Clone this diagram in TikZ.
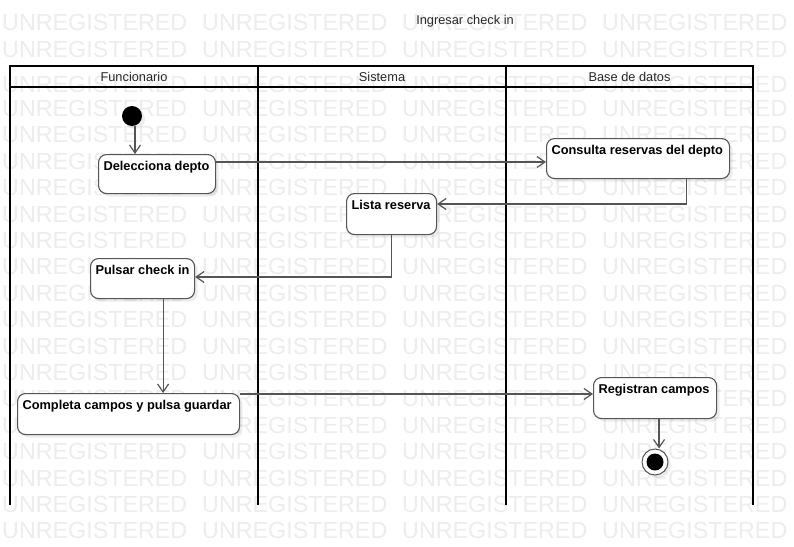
\documentclass[tikz,border=0pt]{standalone}
\usepackage{fontspec}
\setmainfont{Liberation Sans}
\usetikzlibrary{arrows.meta,shadows,calc}
\definecolor{wmgray}{RGB}{237,237,237}
\definecolor{edge}{RGB}{85,85,85}
\definecolor{ink}{RGB}{40,40,40}
\newcommand{\acttext}[2]{\makebox[#1][l]{#2}}
\begin{document}
\begin{tikzpicture}[x=1pt,y=-1pt,
  wm/.style={anchor=base west, inner sep=0pt, text=wmgray, font=\fontsize{23.3}{24}\selectfont},
  lane/.style={line width=2pt, draw=black},
  lanehead/.style={font=\fontsize{12.8}{14}\selectfont, text=ink, inner sep=0pt},
  softshadow/.style={drop shadow={shadow xshift=3pt, shadow yshift=-3pt, fill=black, opacity=0.07}},
  actbox/.style={draw=edge, line width=1.1pt, rounded corners=8pt, fill=white,
    anchor=north west, inner xsep=5pt, inner ysep=5pt, text height=11pt,
    font=\bfseries\fontsize{12.8}{14}\selectfont, softshadow},
  flow/.style={draw=edge, line width=1.2pt, -{Straight Barb[length=8pt,width=11pt]}},
]
\useasboundingbox (0,0) rectangle (794,546);
\fill[white] (0,0) rectangle (794,546);

% background watermark rows
\foreach \yy [count=\r] in {30.7,57.4,92.7}
  \foreach \c in {0,...,3}
    \node[wm] (wmA-\r-\c) at (2+200*\c,\yy) {UNREGISTERED};
\foreach \k in {0,...,16}
  \foreach \c in {0,...,3}
    \node[wm] (wmB-\k-\c) at (2+200*\c,116.5+26.4*\k) {UNREGISTERED};

% title
\node[lanehead] (title) at (465,21) {Ingresar check in};

% swimlanes
\draw[lane] (10,66) rectangle (753,87);
\draw[lane] (10,66) -- (10,505);
\draw[lane] (258,66) -- (258,505);
\draw[lane] (506,66) -- (506,505);
\draw[lane] (753,66) -- (753,505);
\node[lanehead] (hf) at (134,76.5) {Funcionario};
\node[lanehead] (hs) at (382,76.5) {Sistema};
\node[lanehead] (hb) at (629.5,76.5) {Base de datos};

% initial and final states
\node[circle, fill=black, minimum size=20pt, inner sep=0pt, softshadow] (init) at (132,116) {};
\node[circle, draw=edge, line width=1pt, fill=white, minimum size=26pt, inner sep=0pt, softshadow] (fin) at (655,462) {};
\node[circle, fill=black, minimum size=17pt, inner sep=0pt] (fincore) at (fin) {};

% activities
\node[actbox, text depth=18pt] (d1) at (98,154) {\acttext{107pt}{Delecciona depto}};
\node[actbox, text depth=19pt] (c2) at (546,138) {\acttext{173pt}{Consulta reservas del depto}};
\node[actbox, text depth=20pt] (l3) at (346,193) {\acttext{80pt}{Lista reserva}};
\node[actbox, text depth=19pt] (p4) at (90,258) {\acttext{94pt}{Pulsar check in}};
\node[actbox, text depth=20pt] (c5) at (17,393) {\acttext{212pt}{Completa campos y pulsa guardar}};
\node[actbox, text depth=20pt] (r6) at (593,377) {\acttext{113pt}{Registran campos}};

% control flow
\coordinate (i0) at ([xshift=3pt]init.south);
\draw[flow] (i0) -- (i0 |- d1.north);
\coordinate (d1r) at ([yshift=-8pt]d1.north east);
\draw[flow] (d1r) -- (d1r -| c2.west);
\draw[flow] ([xshift=-44pt]c2.south east) |- ([yshift=-11pt]l3.north east);
\draw[flow] (l3.south) |- ([yshift=-19pt]p4.north east);
\coordinate (p4b) at ([xshift=-32pt]p4.south east);
\draw[flow] (p4b) -- (p4b |- c5.north);
\coordinate (c5r) at ([yshift=-1pt]c5.north east);
\draw[flow] (c5r) -- (c5r -| r6.west);
\coordinate (r6b) at ([xshift=4pt]r6.south);
\draw[flow] (r6b) -- (r6b |- fin.north);
\end{tikzpicture}
\end{document}
